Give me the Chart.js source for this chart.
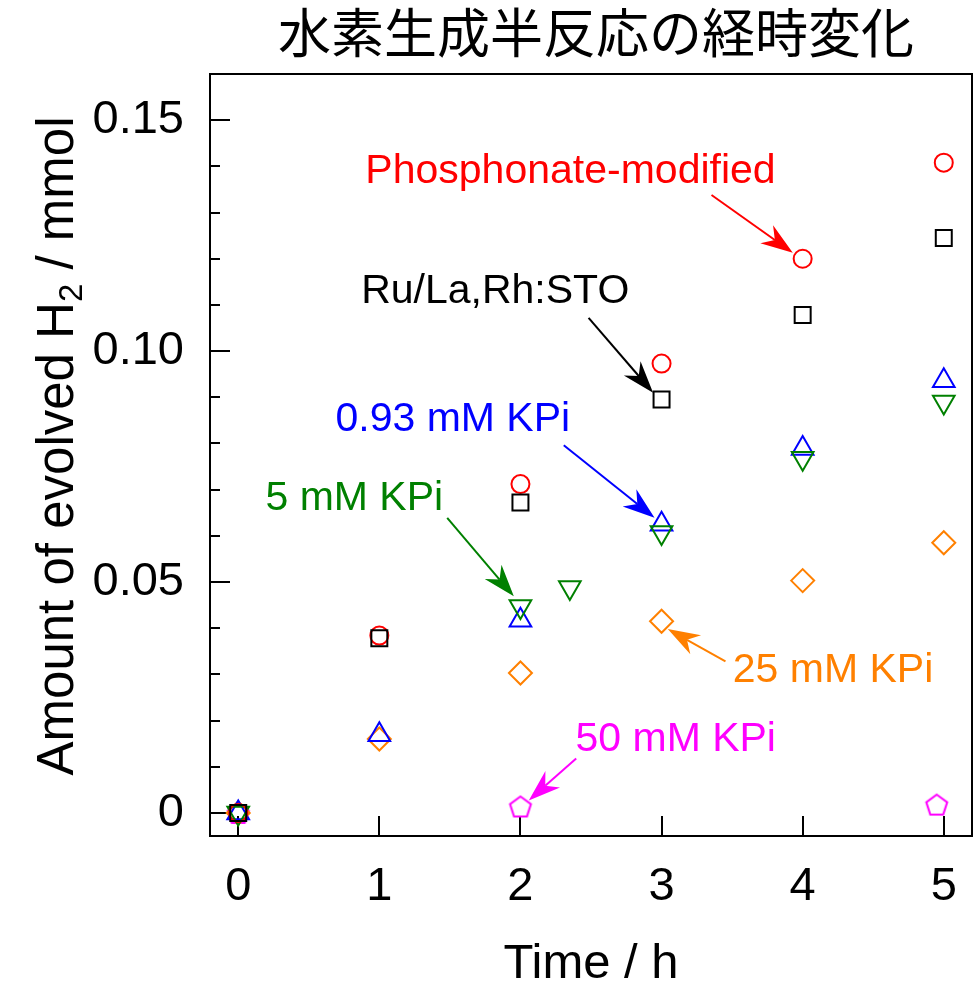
<!DOCTYPE html>
<html>
<head>
<meta charset="utf-8">
<script src="https://cdn.jsdelivr.net/npm/chart.js@4"></script>
<style>
  html, body { margin: 0; padding: 0; background: #fff; }
  canvas { display: block; }
</style>
</head>
<body>
<canvas id="h2Chart" width="978" height="984"></canvas>
<script>
// Evolved H2 (mmol) against irradiation time (h)
const hours = [0, 1, 2, 3, 4, 5];
const hoursKPi5 = [0, 2, 2.35, 3, 4, 5];
const hoursKPi50 = [0, 2, 4.95];

const ruLaRhSTO = [0, 0.0378, 0.0672, 0.0895, 0.1078, 0.1245];
const phosphonate = [0, 0.0384, 0.0712, 0.0973, 0.1200, 0.1408];
const kpi093 = [0, 0.0169, 0.0417, 0.0625, 0.0789, 0.0936];
const kpi5 = [0, 0.0447, 0.0488, 0.0607, 0.0768, 0.0890];
const kpi25 = [0, 0.0160, 0.0303, 0.0415, 0.0503, 0.0585];
const kpi50 = [0, 0.0014, 0.0018];

const xTicks = [0, 1, 2, 3, 4, 5];
const yTicks = [0, 0.05, 0.10, 0.15];
const yMinorStep = 0.01;

const RED = '#ff0000', BLACK = '#000000', BLUE = '#0000ff',
      GREEN = '#008000', ORANGE = '#ff8000', MAGENTA = '#ff00ff';

const FONT = 'Arial, "Liberation Sans", sans-serif';

// callout text (left edge, baseline) and arrows, in axis units
const notes = [
  { text: 'Phosphonate-modified', color: RED,     x: 0.901, y: 0.1364 },
  { text: 'Ru/La,Rh:STO',         color: BLACK,   x: 0.871, y: 0.1105 },
  { text: '0.93 mM KPi',          color: BLUE,    x: 0.689, y: 0.0827 },
  { text: '5 mM KPi',             color: GREEN,   x: 0.193, y: 0.0655 },
  { text: '25 mM KPi',            color: ORANGE,  x: 3.505, y: 0.0283 },
  { text: '50 mM KPi',            color: MAGENTA, x: 2.390, y: 0.0135 }
];
const arrows = [
  { color: RED,     from: [3.354, 0.1338], to: [3.930, 0.1213] },
  { color: BLACK,   from: [2.483, 0.1072], to: [2.940, 0.0910] },
  { color: BLUE,    from: [2.307, 0.0796], to: [2.950, 0.0639] },
  { color: GREEN,   from: [1.481, 0.0639], to: [1.953, 0.0469] },
  { color: ORANGE,  from: [3.453, 0.0328], to: [3.044, 0.0398] },
  { color: MAGENTA, from: [2.395, 0.0118], to: [2.059, 0.0027] }
];

function pentagon(color, r) {
  const c = document.createElement('canvas');
  const s = Math.ceil(2 * r + 4);
  c.width = s; c.height = s;
  const g = c.getContext('2d');
  g.strokeStyle = color;
  g.lineWidth = 2;
  g.beginPath();
  for (let i = 0; i < 5; i++) {
    const a = -Math.PI / 2 + i * 2 * Math.PI / 5;
    const px = s / 2 + r * Math.cos(a), py = s / 2 + 1 + r * Math.sin(a);
    if (i) g.lineTo(px, py); else g.moveTo(px, py);
  }
  g.closePath();
  g.stroke();
  return c;
}

function points(xs, ys) {
  return xs.map((x, i) => ({ x: x, y: ys[i] }));
}

function series(label, xs, ys, color, style, radius, rotation) {
  return {
    label: label,
    data: points(xs, ys),
    showLine: false,
    borderColor: color,
    backgroundColor: 'rgba(0,0,0,0)',
    pointStyle: style,
    pointRadius: radius,
    pointRotation: rotation || 0,
    pointBorderWidth: 2,
    clip: false
  };
}

function drawArrow(ctx, x1, y1, x2, y2, color) {
  const dx = x2 - x1, dy = y2 - y1;
  const len = Math.hypot(dx, dy);
  const ux = dx / len, uy = dy / len;
  const nx = -uy, ny = ux;
  const headLen = 32, halfW = 11, notch = 22;
  ctx.strokeStyle = color;
  ctx.fillStyle = color;
  ctx.lineWidth = 2;
  ctx.beginPath();
  ctx.moveTo(x1, y1);
  ctx.lineTo(x2 - ux * notch, y2 - uy * notch);
  ctx.stroke();
  ctx.beginPath();
  ctx.moveTo(x2, y2);
  ctx.lineTo(x2 - ux * headLen + nx * halfW, y2 - uy * headLen + ny * halfW);
  ctx.lineTo(x2 - ux * notch, y2 - uy * notch);
  ctx.lineTo(x2 - ux * headLen - nx * halfW, y2 - uy * headLen - ny * halfW);
  ctx.closePath();
  ctx.fill();
}

const decorations = {
  id: 'decorations',
  beforeDatasetsDraw(chart) {
    const { ctx, chartArea: a, scales: { x, y } } = chart;
    ctx.save();
    ctx.strokeStyle = '#000';
    ctx.lineWidth = 2;
    ctx.strokeRect(a.left, a.top, a.right - a.left, a.bottom - a.top);
    ctx.beginPath();
    x.ticks.forEach(t => {
      const px = Math.round(x.getPixelForValue(t.value));
      ctx.moveTo(px, a.bottom);
      ctx.lineTo(px, a.bottom - 20);
    });
    const n = Math.floor(y.max / yMinorStep + 1e-6);
    for (let i = 0; i <= n; i++) {
      const v = i * yMinorStep;
      const major = yTicks.some(t => Math.abs(t - v) < 1e-9);
      const py = Math.round(y.getPixelForValue(v));
      ctx.moveTo(a.left, py);
      ctx.lineTo(a.left + (major ? 20 : 10), py);
    }
    ctx.stroke();
    ctx.restore();
  },
  afterDatasetsDraw(chart) {
    const { ctx, scales: { x, y } } = chart;
    ctx.save();
    arrows.forEach(ar => {
      drawArrow(ctx,
        x.getPixelForValue(ar.from[0]), y.getPixelForValue(ar.from[1]),
        x.getPixelForValue(ar.to[0]), y.getPixelForValue(ar.to[1]), ar.color);
    });
    ctx.font = '41px ' + FONT;
    ctx.textAlign = 'left';
    ctx.textBaseline = 'alphabetic';
    notes.forEach(nt => {
      ctx.fillStyle = nt.color;
      ctx.fillText(nt.text, x.getPixelForValue(nt.x), y.getPixelForValue(nt.y));
    });
    ctx.restore();
  },
  afterDraw(chart) {
    const { ctx, chartArea: a } = chart;
    ctx.save();
    ctx.fillStyle = '#000';

    // chart title
    ctx.font = '53px "Noto Sans CJK JP", sans-serif';
    ctx.textAlign = 'center';
    ctx.textBaseline = 'middle';
    ctx.fillText('水素生成半反応の経時変化', 596, 33);

    // x axis title
    ctx.font = '49px ' + FONT;
    ctx.textBaseline = 'alphabetic';
    ctx.fillText('Time / h', (a.left + a.right) / 2, 978);

    // y axis title with subscript
    const main = 'Amount of evolved H', sub = '2', tail = ' / mmol';
    const big = '51px ' + FONT, small = '33px ' + FONT;
    ctx.font = big;
    const w1 = ctx.measureText(main).width, w3 = ctx.measureText(tail).width;
    ctx.font = small;
    const w2 = ctx.measureText(sub).width;
    const total = w1 + w2 + w3;
    ctx.translate(73, 446);
    ctx.rotate(-Math.PI / 2);
    ctx.textAlign = 'left';
    let cx = -total / 2;
    ctx.font = big;
    ctx.fillText(main, cx, 0);
    cx += w1;
    ctx.font = small;
    ctx.fillText(sub, cx, 9);
    cx += w2;
    ctx.font = big;
    ctx.fillText(tail, cx, 0);
    ctx.restore();
  }
};

new Chart(document.getElementById('h2Chart'), {
  type: 'scatter',
  data: {
    datasets: [
      series('Ru/La,Rh:STO', hours, ruLaRhSTO, BLACK, 'rect', 11.3),
      series('Phosphonate-modified', hours, phosphonate, RED, 'circle', 9),
      series('5 mM KPi', hoursKPi5, kpi5, GREEN, 'triangle', 12.5, 180),
      series('0.93 mM KPi', hours, kpi093, BLUE, 'triangle', 12.5),
      series('25 mM KPi', hours, kpi25, ORANGE, 'rectRot', 11.5),
      series('50 mM KPi', hoursKPi50, kpi50, MAGENTA, pentagon(MAGENTA, 11), 11)
    ]
  },
  options: {
    responsive: false,
    animation: false,
    layout: { autoPadding: false, padding: { top: 74, right: 6, bottom: 0, left: 0 } },
    plugins: {
      legend: { display: false },
      tooltip: { enabled: false }
    },
    scales: {
      x: {
        type: 'linear',
        min: -0.2,
        max: 5.2,
        afterBuildTicks: s => { s.ticks = xTicks.map(v => ({ value: v })); },
        afterFit: s => { s.height = 148; s.paddingLeft = 0; s.paddingRight = 0; },
        grid: { display: false, drawTicks: false },
        border: { display: false },
        ticks: {
          autoSkip: false,
          maxRotation: 0,
          padding: 23,
          color: '#000',
          font: { family: FONT, size: 47 },
          callback: v => String(v)
        }
      },
      y: {
        type: 'linear',
        min: -0.005,
        max: 0.16,
        afterBuildTicks: s => { s.ticks = yTicks.map(v => ({ value: v })); },
        afterFit: s => { s.width = 210; s.paddingTop = 0; s.paddingBottom = 0; },
        grid: { display: false, drawTicks: false },
        border: { display: false },
        ticks: {
          autoSkip: false,
          padding: 26,
          color: '#000',
          font: { family: FONT, size: 47 },
          callback: v => (v === 0 ? '0' : v.toFixed(2))
        }
      }
    }
  },
  plugins: [decorations]
});
</script>
</body>
</html>
